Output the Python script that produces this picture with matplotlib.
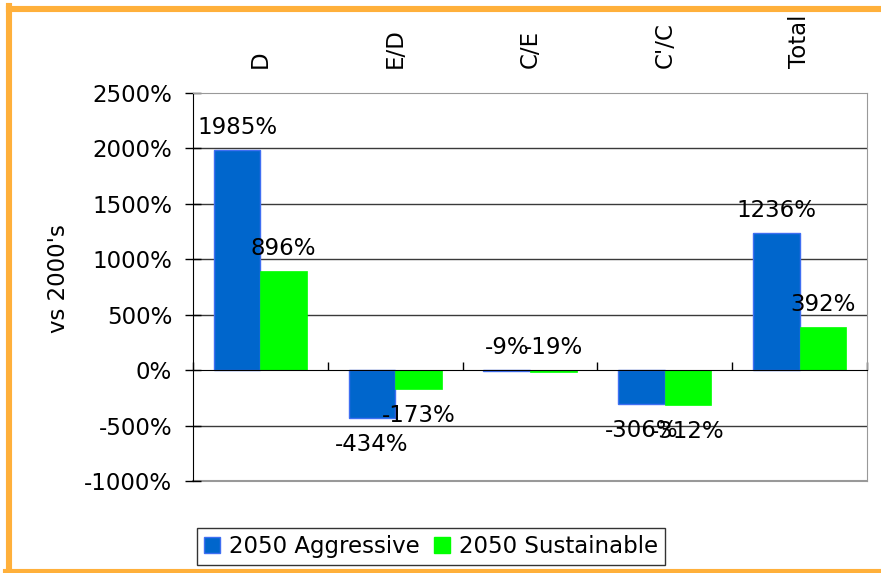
import matplotlib
matplotlib.use("Agg")
import matplotlib.pyplot as plt
from matplotlib.patches import Patch
from matplotlib.lines import Line2D
import numpy as np

categories = ["D", "E/D", "C/E", "C'/C", "Total"]
aggressive = [1985, -434, -9, -306, 1236]
sustainable = [896, -173, -19, -312, 392]
series_names = ["2050 Aggressive", "2050 Sustainable"]
yticks = [-1000, -500, 0, 500, 1000, 1500, 2000, 2500]

BLUE = "#0066CC"
BLUE_EDGE = "#3F6FF2"
GREEN = "#00FF00"
ORANGE = "#FFB03B"
FS = 16.5

plt.rcParams["font.family"] = ["DejaVu Sans"]

fig = plt.figure(figsize=(8.81, 5.73), dpi=100)
ax = fig.add_axes([193/881, 1-481/573, (867-193)/881, (481-93)/573])

x = np.arange(len(categories))
w = 0.345
b1 = ax.bar(x - w/2, aggressive, w, color=BLUE, edgecolor=BLUE_EDGE, linewidth=1, zorder=3)
b2 = ax.bar(x + w/2, sustainable, w, color=GREEN, edgecolor=GREEN, linewidth=0.5, zorder=3)

ax.set_xlim(-0.5, len(categories) - 0.5)
ax.set_ylim(-1000, 2500)
ax.set_yticks(yticks)
ax.set_yticklabels([f"{v}%" for v in yticks], fontsize=FS)
ax.tick_params(axis="y", direction="inout", length=12, width=1, pad=9, color="black")

# horizontal gridlines
for v in yticks:
    if v in (0, 2500):
        continue
    ax.axhline(v, color="#3a3a3a", linewidth=1, zorder=1)

# zero axis with category-boundary ticks
ax.spines["bottom"].set_position(("data", 0))
ax.spines["bottom"].set_color("black")
ax.spines["bottom"].set_zorder(4)
ax.set_xticks(np.arange(-0.5, len(categories), 1.0))
ax.set_xticklabels([])
ax.tick_params(axis="x", direction="in", length=6, width=1, color="black")
ax.spines["left"].set_color("black")
ax.spines["top"].set_color("#999999")
ax.spines["right"].set_color("#999999")
ax.axhline(-1000, color="#999999", linewidth=1.5, zorder=1, clip_on=False)

# category labels at top
sec = ax.secondary_xaxis("top")
sec.set_xticks(x)
sec.set_xticklabels(categories, rotation=90, fontsize=FS)
sec.tick_params(length=0, pad=18)
sec.spines["top"].set_visible(False)

ax.set_ylabel("vs 2000's", fontsize=16.5)
ax.yaxis.set_label_coords(-0.182, 0.523)

# data labels
for bars, vals in ((b1, aggressive), (b2, sustainable)):
    for rect, v in zip(bars, vals):
        cx = rect.get_x() + rect.get_width()/2
        if v >= -50:
            ax.annotate(f"{v}%", (cx, max(v, 0)), xytext=(0, 16), textcoords="offset points",
                        ha="center", va="center", fontsize=FS, zorder=5)
        else:
            ax.annotate(f"{v}%", (cx, v), xytext=(0, -19), textcoords="offset points",
                        ha="center", va="center", fontsize=FS, zorder=5)

# legend
handles = [Patch(facecolor=BLUE, edgecolor=BLUE_EDGE), Patch(facecolor=GREEN, edgecolor=GREEN)]
leg = fig.legend(handles, series_names, ncol=2, loc="upper left",
                 bbox_to_anchor=(197/881, 1-528/573), fontsize=FS, frameon=True,
                 fancybox=False, edgecolor="black", handlelength=0.7, handleheight=0.7,
                 handletextpad=0.4, columnspacing=0.6, borderpad=0.3, borderaxespad=0)
leg.get_frame().set_linewidth(1)

# orange frame
H, W = 573, 881
fig.add_artist(Line2D([9/W, 1], [1-9/H, 1-9/H], color=ORANGE, linewidth=4.4, transform=fig.transFigure))
fig.add_artist(Line2D([9/W, 9/W], [1-6/H, 1-574/H], color=ORANGE, linewidth=4.4, transform=fig.transFigure))
fig.add_artist(Line2D([6/W, 1], [1-572/H, 1-572/H], color=ORANGE, linewidth=4.4, transform=fig.transFigure))

fig.savefig("out.png", dpi=100)
